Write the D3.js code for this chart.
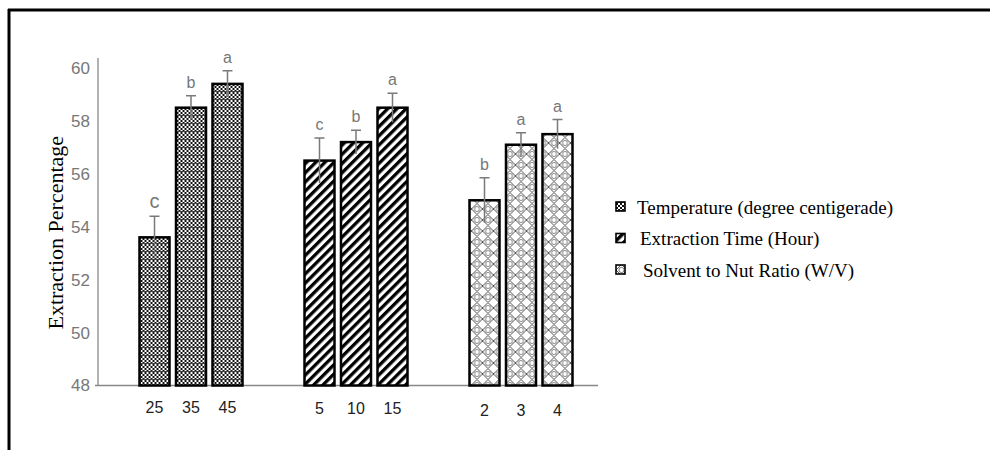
<!doctype html>
<html lang="en">
<head>
  <meta charset="utf-8">
  <title>Extraction Percentage</title>
  <script src="https://cdnjs.cloudflare.com/ajax/libs/d3/7.8.5/d3.min.js"></script>
  <style>
    body { margin: 0; background: #fff; }
  </style>
</head>
<body>
  <svg width="990" height="450" id="svg"></svg>

<script type="text/javascript">

	var groups = ['Temperature (degree centigerade)', 'Extraction Time (Hour)', 'Solvent to Nut Ratio (W/V)'];
	var levels = [['25', '35', '45'], ['5', '10', '15'], ['2', '3', '4']];
	var means = [[53.6, 58.5, 59.4], [56.5, 57.2, 58.5], [55.0, 57.1, 57.5]];
	var errors = [[0.8, 0.45, 0.5], [0.85, 0.45, 0.55], [0.85, 0.45, 0.55]];
	var letters = [['c', 'b', 'a'], ['c', 'b', 'a'], ['b', 'a', 'a']];
	var yTicks = [48, 50, 52, 54, 56, 58, 60];

	var svg = d3.select('#svg');

	// frame (top and left edges only)
	svg.append('line').attr('x1', 8).attr('x2', 990).attr('y1', 10).attr('y2', 10)
		.attr('stroke', '#000').attr('stroke-width', 3);
	svg.append('line').attr('x1', 9).attr('x2', 9).attr('y1', 9).attr('y2', 450)
		.attr('stroke', '#000').attr('stroke-width', 3);

	var y = d3.scaleLinear().domain([48, 60]).range([385.5, 68]);

	var x0 = d3.scaleBand().domain(groups).range([108.5, 603.5]);
	var x1 = d3.scaleBand().domain([0, 1, 2])
		.range([27.75, 137.25])
		.paddingInner(0.178)
		.paddingOuter(0.089);

	// patterns
	var defs = svg.append('defs');

	var p0 = defs.append('pattern').attr('id', 'pat0')
		.attr('patternUnits', 'userSpaceOnUse').attr('width', 8).attr('height', 8);
	p0.append('rect').attr('width', 8).attr('height', 8).attr('fill', '#fff');
	for (var i = 0; i < 4; i++) {
		for (var j = 0; j < 4; j++) {
			if ((i + j) % 2 === 0) {
				p0.append('rect').attr('x', i * 2).attr('y', j * 2)
					.attr('width', 2).attr('height', 2).attr('fill', '#111');
			}
		}
	}
	p0.append('rect').attr('x', 0).attr('y', 3).attr('width', 8).attr('height', 1).attr('fill', '#444');

	var p1 = defs.append('pattern').attr('id', 'pat1')
		.attr('patternUnits', 'userSpaceOnUse').attr('width', 6.5).attr('height', 10)
		.attr('patternTransform', 'rotate(45)');
	p1.append('rect').attr('width', 6.5).attr('height', 10).attr('fill', '#fff');
	p1.append('rect').attr('x', 0).attr('width', 3.3).attr('height', 10).attr('fill', '#000');

	var p2 = defs.append('pattern').attr('id', 'pat2')
		.attr('patternUnits', 'userSpaceOnUse').attr('width', 11).attr('height', 11);
	p2.append('rect').attr('width', 11).attr('height', 11).attr('fill', '#fff');
	p2.append('path').attr('d', 'M0,0L11,11M11,0L0,11')
		.attr('stroke', '#444').attr('stroke-width', 0.9).attr('fill', 'none');
	p2.append('circle').attr('cx', 5.5).attr('cy', 0).attr('r', 2.6)
		.attr('stroke', '#555').attr('stroke-width', 0.8).attr('fill', 'none');
	p2.append('circle').attr('cx', 5.5).attr('cy', 11).attr('r', 2.6)
		.attr('stroke', '#555').attr('stroke-width', 0.8).attr('fill', 'none');

	// y axis
	var yAxis = svg.append('g')
		.attr('transform', 'translate(98,0)')
		.call(d3.axisLeft(y).tickValues(yTicks).tickSize(0).tickPadding(8));
	yAxis.select('.domain').remove();
	yAxis.selectAll('text')
		.attr('fill', '#777')
		.style('font-family', '"Liberation Sans", Arial, sans-serif')
		.style('font-size', '17px');
	svg.append('line')
		.attr('x1', 98).attr('x2', 98)
		.attr('y1', y(48)).attr('y2', y(60) - 10)
		.attr('stroke', '#888').attr('stroke-width', 1.3);

	// x axis line
	svg.append('line')
		.attr('x1', 95).attr('x2', 598)
		.attr('y1', y(48)).attr('y2', y(48))
		.attr('stroke', '#888').attr('stroke-width', 1.3);

	svg.append('text')
		.attr('transform', 'translate(55,' + ((y(48) + y(60)) / 2 + 6) + ') rotate(-90)')
		.attr('text-anchor', 'middle')
		.attr('dy', '0.35em')
		.style('font-family', '"Liberation Serif", "Times New Roman", serif')
		.style('font-size', '22px')
		.attr('fill', '#000')
		.text('Extraction Percentage');

	var g = svg.selectAll('.group')
		.data(groups)
		.enter()
		.append('g')
		.attr('class', 'group')
		.attr('transform', function(d) { return 'translate(' + x0(d) + ',0)'; });

	g.each(function(grp, gi) {
		var sel = d3.select(this);
		var rows = means[gi].map(function(v, k) {
			return { k: k, v: v, e: errors[gi][k], l: letters[gi][k], t: levels[gi][k] };
		});

		sel.selectAll('rect.bar')
			.data(rows)
			.enter()
			.append('rect')
			.attr('class', 'bar')
			.attr('x', function(d) { return x1(d.k); })
			.attr('width', x1.bandwidth())
			.attr('y', function(d) { return y(d.v); })
			.attr('height', function(d) { return y(48) - y(d.v); })
			.attr('fill', 'url(#pat' + gi + ')')
			.attr('stroke', '#000')
			.attr('stroke-width', 2.5);

		// error bars
		sel.selectAll('path.err')
			.data(rows)
			.enter()
			.append('path')
			.attr('class', 'err')
			.attr('d', function(d) {
				var cx = x1(d.k) + x1.bandwidth() / 2;
				return 'M' + cx + ',' + y(d.v - d.e) + 'L' + cx + ',' + y(d.v + d.e) +
					'M' + (cx - 5) + ',' + y(d.v + d.e) + 'L' + (cx + 5) + ',' + y(d.v + d.e);
			})
			.attr('stroke', '#7a7a7a')
			.attr('stroke-width', 1.5)
			.attr('fill', 'none');

		sel.selectAll('text.letter')
			.data(rows)
			.enter()
			.append('text')
			.attr('class', 'letter')
			.attr('x', function(d) { return x1(d.k) + x1.bandwidth() / 2; })
			.attr('y', function(d) { return y(d.v + d.e) - 8; })
			.attr('text-anchor', 'middle')
			.attr('fill', '#777')
			.style('font-family', '"Liberation Sans", Arial, sans-serif')
			.style('font-size', function(d) { return (gi === 0 && d.k === 0) ? '20px' : '16px'; })
			.text(function(d) { return d.l; });

		sel.selectAll('text.lvl')
			.data(rows)
			.enter()
			.append('text')
			.attr('class', 'lvl')
			.attr('x', function(d) { return x1(d.k) + x1.bandwidth() / 2; })
			.attr('y', y(48) + 27 + gi * 1.5)
			.attr('text-anchor', 'middle')
			.attr('fill', '#222')
			.style('font-family', '"Liberation Sans", Arial, sans-serif')
			.style('font-size', '16px')
			.text(function(d) { return d.t; });
	});

	// legend
	var legend = svg.selectAll('.legend')
		.data(groups)
		.enter()
		.append('g')
		.attr('class', 'legend')
		.attr('transform', function(d, i) { return 'translate(616,' + (207 + i * 31.5) + ')'; });

	legend.append('rect')
		.attr('x', 0).attr('y', -5)
		.attr('width', 9).attr('height', 9)
		.attr('fill', function(d, i) { return 'url(#pat' + i + ')'; })
		.attr('stroke', '#000')
		.attr('stroke-width', 1.6);

	legend.append('text')
		.attr('x', function(d, i) { return 21 + i * 3; })
		.attr('y', 0)
		.attr('dy', '0.35em')
		.attr('fill', '#000')
		.style('font-family', '"Liberation Serif", "Times New Roman", serif')
		.style('font-size', '19px')
		.text(function(d) { return d; });

</script>
</body>
</html>
